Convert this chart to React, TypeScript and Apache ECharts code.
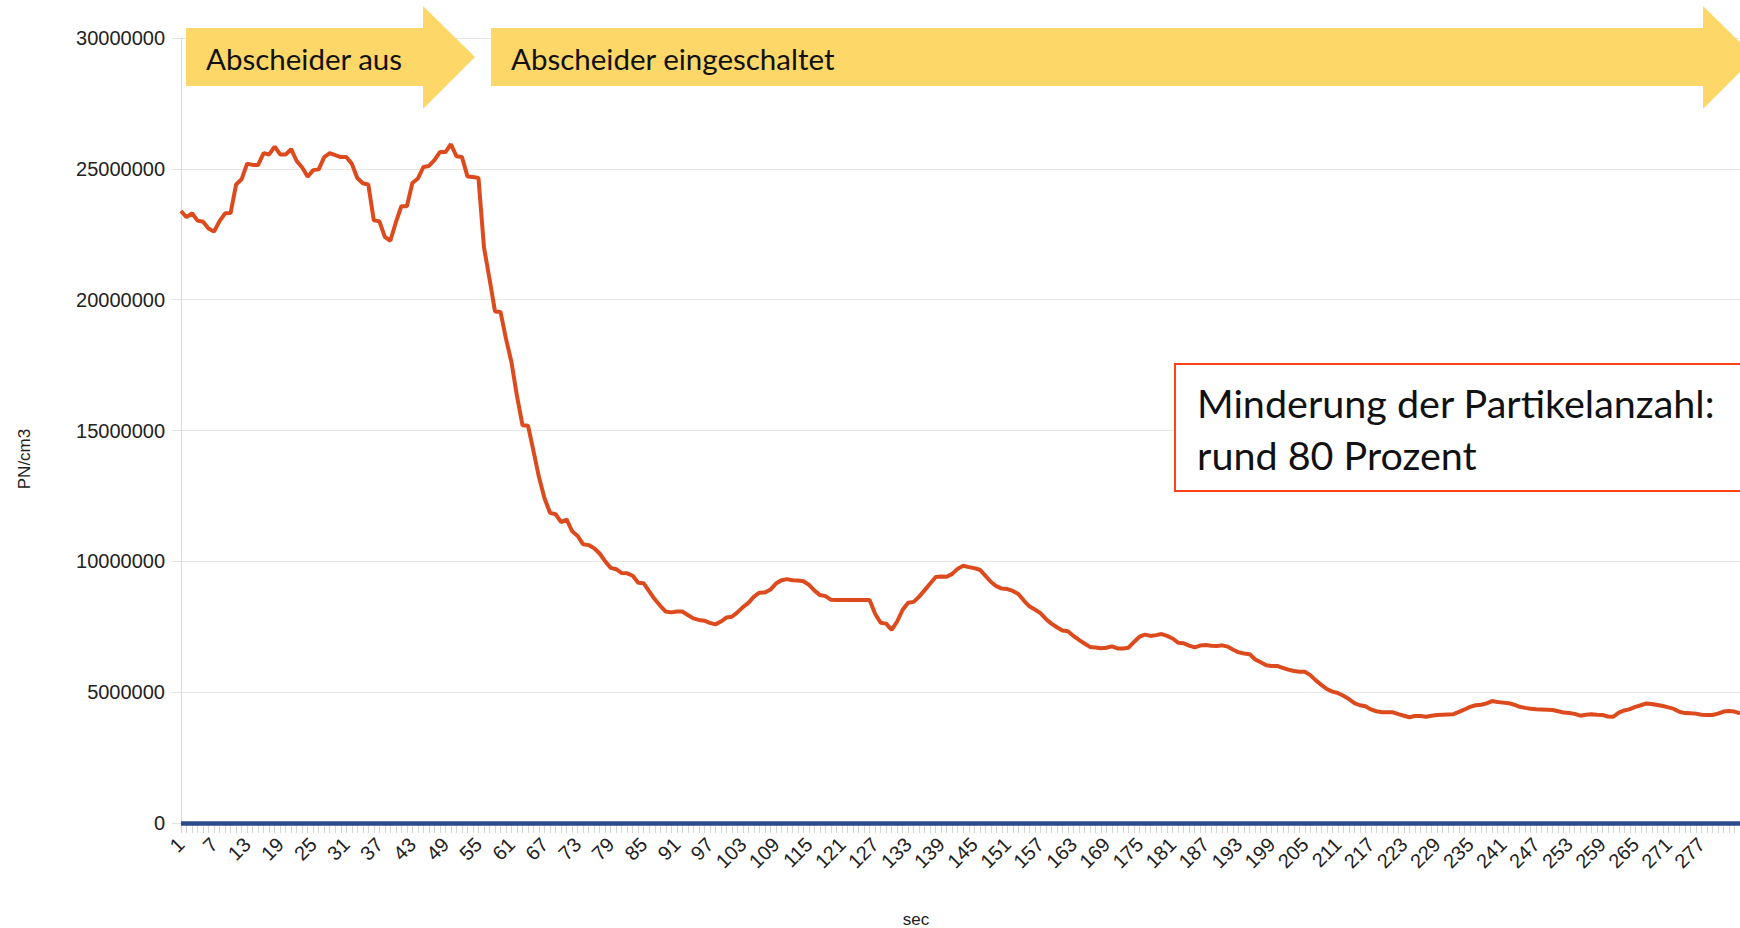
import React, { useEffect, useRef } from "react";
import * as echarts from "echarts";

const categories: string[] = [];
for (let i = 1; i <= 284; i++) categories.push(String(i));

const yTicks = [0, 5000000, 10000000, 15000000, 20000000, 25000000, 30000000];
const lastLabelledSecond = 277;

const pnValues = [
  23390000, 23150000, 23300000, 23020000, 22980000, 22720000, 22600000, 23000000, 23300000, 23310000,
  24400000, 24600000, 25200000, 25150000, 25150000, 25600000, 25550000, 25850000, 25550000, 25550000,
  25750000, 25300000, 25050000, 24700000, 24950000, 24980000, 25450000, 25600000, 25520000, 25450000,
  25450000, 25200000, 24650000, 24450000, 24400000, 23030000, 23000000, 22400000, 22250000, 22950000,
  23570000, 23570000, 24460000, 24630000, 25070000, 25110000, 25330000, 25640000, 25640000, 25940000,
  25480000, 25450000, 24710000, 24690000, 24650000, 22000000, 20800000, 19550000, 19530000, 18500000,
  17600000, 16300000, 15200000, 15180000, 14200000, 13200000, 12400000, 11850000, 11800000, 11500000,
  11600000, 11150000, 10970000, 10650000, 10620000, 10500000, 10300000, 10000000, 9750000, 9700000,
  9550000, 9540000, 9450000, 9180000, 9160000, 8850000, 8550000, 8300000, 8080000, 8050000,
  8080000, 8080000, 7950000, 7820000, 7760000, 7730000, 7650000, 7590000, 7700000, 7850000,
  7880000, 8050000, 8250000, 8410000, 8650000, 8800000, 8810000, 8920000, 9150000, 9280000,
  9320000, 9280000, 9270000, 9240000, 9100000, 8880000, 8710000, 8670000, 8530000, 8520000,
  8520000, 8520000, 8520000, 8520000, 8520000, 8520000, 8000000, 7650000, 7620000, 7380000,
  7700000, 8150000, 8420000, 8450000, 8650000, 8900000, 9150000, 9400000, 9420000, 9410000,
  9520000, 9720000, 9830000, 9780000, 9740000, 9680000, 9450000, 9220000, 9050000, 8960000,
  8940000, 8870000, 8750000, 8500000, 8280000, 8160000, 8020000, 7800000, 7620000, 7480000,
  7360000, 7330000, 7150000, 7000000, 6860000, 6730000, 6710000, 6680000, 6700000, 6750000,
  6670000, 6670000, 6700000, 6920000, 7120000, 7200000, 7150000, 7180000, 7220000, 7150000,
  7050000, 6890000, 6870000, 6780000, 6710000, 6780000, 6800000, 6770000, 6760000, 6790000,
  6740000, 6620000, 6520000, 6480000, 6450000, 6250000, 6140000, 6030000, 6000000, 6000000,
  5930000, 5860000, 5810000, 5780000, 5780000, 5650000, 5450000, 5280000, 5120000, 5020000,
  4970000, 4860000, 4740000, 4580000, 4500000, 4460000, 4340000, 4270000, 4230000, 4230000,
  4230000, 4160000, 4100000, 4040000, 4090000, 4090000, 4060000, 4100000, 4130000, 4140000,
  4150000, 4160000, 4250000, 4340000, 4440000, 4500000, 4520000, 4570000, 4660000, 4620000,
  4600000, 4580000, 4520000, 4440000, 4400000, 4370000, 4350000, 4340000, 4330000, 4320000,
  4270000, 4220000, 4200000, 4170000, 4100000, 4140000, 4160000, 4140000, 4130000, 4070000,
  4060000, 4220000, 4300000, 4350000, 4440000, 4500000, 4570000, 4550000, 4510000, 4470000,
  4420000, 4360000, 4250000, 4200000, 4190000, 4180000, 4140000, 4130000, 4130000, 4180000,
  4260000, 4280000, 4260000, 4190000,
];

const arrowTexts = ["Abscheider aus", "Abscheider eingeschaltet"];
const noteLines = ["Minderung der Partikelanzahl:", "rund 80 Prozent"];

export default function App() {
  const ref = useRef<HTMLDivElement>(null);
  useEffect(() => {
    if (!ref.current) return;
    const chart = echarts.init(ref.current, null, { renderer: "svg" });
    const axisFont = "'Liberation Sans', Arial, sans-serif";
    const boxFont = "Lato, 'Open Sans', sans-serif";
    chart.setOption({
      animation: false,
      backgroundColor: "#ffffff",
      grid: { left: 181, right: 0, top: 38, bottom: 105, containLabel: false },
      xAxis: {
        type: "category",
        data: categories,
        boundaryGap: false,
        axisLine: { show: true, lineStyle: { color: "#d4d4d4", width: 1 } },
        axisTick: { show: true, interval: 0, length: 10, lineStyle: { color: "#d4d4d4", width: 1 } },
        axisLabel: {
          interval: (idx: number) => idx % 6 === 0 && idx + 1 <= lastLabelledSecond,
          rotate: 45,
          margin: 18,
          fontSize: 20,
          fontFamily: axisFont,
          color: "#222222",
        },
        splitLine: { show: false },
      },
      yAxis: {
        type: "value",
        min: yTicks[0],
        max: yTicks[yTicks.length - 1],
        interval: 5000000,
        axisLine: { show: true, lineStyle: { color: "#dcdcdc", width: 1 } },
        axisTick: { show: true, length: 9, lineStyle: { color: "#e2e2e2" } },
        axisLabel: {
          margin: 16,
          fontSize: 20,
          fontFamily: axisFont,
          color: "#222222",
          formatter: (v: number) => String(v),
        },
        splitLine: { show: true, lineStyle: { color: "#e6e6e6", width: 1 } },
      },
      series: [
        {
          type: "line",
          name: "PN/cm3",
          data: pnValues,
          showSymbol: false,
          symbol: "none",
          lineStyle: { color: "#dc4a1e", width: 4 },
          itemStyle: { color: "#dc4a1e" },
          z: 5,
          markLine: {
            silent: true,
            symbol: "none",
            label: { show: false },
            lineStyle: { color: "#2c4a8c", width: 4.5, type: "solid" },
            data: [{ yAxis: 0 }],
          },
        },
      ],
      graphic: [
        {
          type: "text",
          x: 24,
          y: 459,
          rotation: Math.PI / 2,
          style: {
            text: "PN/cm3",
            fontSize: 17,
            fontFamily: axisFont,
            fill: "#222222",
            align: "center",
            verticalAlign: "middle",
          },
        },
        {
          type: "text",
          x: 916,
          y: 919,
          style: {
            text: "sec",
            fontSize: 17,
            fontFamily: axisFont,
            fill: "#222222",
            align: "center",
            verticalAlign: "middle",
          },
        },
        {
          type: "polygon",
          shape: {
            points: [
              [186, 28], [423, 28], [423, 6], [475, 57], [423, 109], [423, 86], [186, 86],
            ],
          },
          style: { fill: "#fdd868" },
          z: 10,
        },
        {
          type: "polygon",
          shape: {
            points: [
              [491, 28], [1703, 28], [1703, 6], [1755, 57], [1703, 109], [1703, 86], [491, 86],
            ],
          },
          style: { fill: "#fdd868" },
          z: 10,
        },
        {
          type: "text",
          x: 206,
          y: 58,
          z: 11,
          style: {
            text: arrowTexts[0],
            fontSize: 29.5,
            fontFamily: boxFont,
            fill: "#111111",
            verticalAlign: "middle",
          },
        },
        {
          type: "text",
          x: 511,
          y: 58,
          z: 11,
          style: {
            text: arrowTexts[1],
            fontSize: 29.5,
            fontFamily: boxFont,
            fill: "#111111",
            verticalAlign: "middle",
          },
        },
        {
          type: "rect",
          shape: { x: 1175, y: 364, width: 600, height: 127 },
          style: { fill: "#ffffff", stroke: "#ff4018", lineWidth: 2 },
          z: 10,
        },
        {
          type: "text",
          x: 1197,
          y: 402,
          z: 11,
          style: {
            text: noteLines[0],
            fontSize: 39.5,
            fontFamily: boxFont,
            fill: "#111111",
            verticalAlign: "middle",
          },
        },
        {
          type: "text",
          x: 1197,
          y: 454,
          z: 11,
          style: {
            text: noteLines[1],
            fontSize: 39.5,
            fontFamily: boxFont,
            fill: "#111111",
            verticalAlign: "middle",
          },
        },
      ],
    });
    return () => chart.dispose();
  }, []);
  return (
    <div
      ref={ref}
      style={{ position: "fixed", left: 0, top: 0, width: 1740, height: 928, background: "#fff" }}
    />
  );
}
